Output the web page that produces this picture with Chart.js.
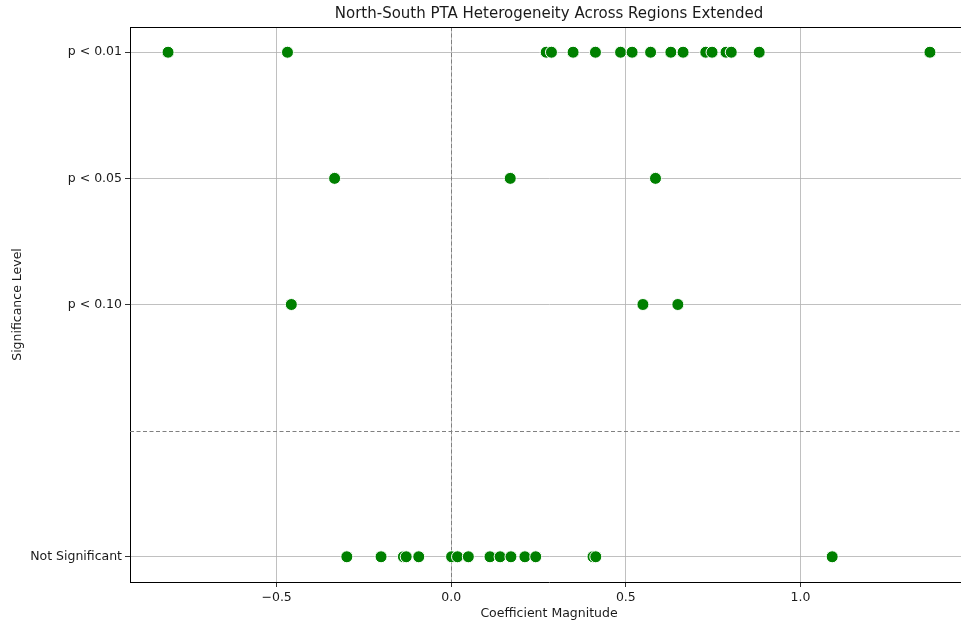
<!DOCTYPE html>
<html>
<head>
<meta charset="utf-8">
<script src="https://cdn.jsdelivr.net/npm/chart.js@4/dist/chart.umd.min.js"></script>
<style>
  html, body { margin: 0; padding: 0; background: #fff; overflow: hidden; }
  #wrap { width: 975px; height: 624px; }
</style>
</head>
<body>
<div id="wrap"><canvas id="c" width="975" height="624"></canvas></div>
<script>
// Significance levels and their vertical codes
const levelLabels = ['p < 0.01', 'p < 0.05', 'p < 0.10', 'Not Significant'];
const levelCodes = [3, 2, 1, -1];

// Coefficient estimates grouped by significance level
const coefP01 = [-0.811, -0.469, 0.272, 0.287, 0.349, 0.413, 0.485, 0.518, 0.571,
                 0.629, 0.664, 0.729, 0.747, 0.787, 0.802, 0.882, 1.371];
const coefP05 = [-0.334, 0.169, 0.585];
const coefP10 = [-0.458, 0.549, 0.649];
const coefNS  = [-0.299, -0.201, -0.137, -0.129, -0.093, 0.001, 0.018, 0.049, 0.111,
                 0.140, 0.171, 0.211, 0.242, 0.406, 0.414, 1.091];

const xTicks = [-0.5, 0.0, 0.5, 1.0];
const chartTitle = 'North-South PTA Heterogeneity Across Regions Extended';

const groups = [coefP01, coefP05, coefP10, coefNS];
const points = [];
groups.forEach((vals, i) => vals.forEach(v => points.push({ x: v, y: levelCodes[i] })));

const FONT = 'DejaVu Sans';
const TXT = '#1a1a1a';

// Zero reference lines, top/right frame, and a title centred over the plot area
const refLines = {
  id: 'refLines',
  beforeDatasetsDraw(chart) {
    const { ctx, chartArea: a, scales } = chart;
    const x0 = scales.x.getPixelForValue(0);
    const y0 = scales.y.getPixelForValue(0);
    ctx.save();
    ctx.strokeStyle = '#808080';
    ctx.lineWidth = 1;
    ctx.setLineDash([4, 2.5]);
    ctx.beginPath();
    ctx.moveTo(Math.round(x0) + 0.5, a.top);
    ctx.lineTo(Math.round(x0) + 0.5, a.bottom);
    ctx.moveTo(a.left, Math.round(y0) + 0.5);
    ctx.lineTo(a.right, Math.round(y0) + 0.5);
    ctx.stroke();
    ctx.restore();
  },
  afterDraw(chart) {
    const { ctx, chartArea: a } = chart;
    ctx.save();
    ctx.strokeStyle = '#000';
    ctx.lineWidth = 1;
    ctx.beginPath();
    ctx.moveTo(a.left, a.top + 0.5);
    ctx.lineTo(a.right, a.top + 0.5);
    ctx.moveTo(a.right - 0.5, a.top);
    ctx.lineTo(a.right - 0.5, a.bottom);
    ctx.stroke();
    ctx.fillStyle = TXT;
    ctx.font = '15px "' + FONT + '"';
    ctx.textAlign = 'center';
    ctx.textBaseline = 'middle';
    ctx.fillText(chartTitle, (a.left + a.right) / 2, a.top - 13);
    ctx.restore();
  }
};

new Chart(document.getElementById('c'), {
  type: 'scatter',
  data: {
    datasets: [{
      data: points,
      backgroundColor: '#008000',
      borderColor: '#ffffff',
      borderWidth: 1,
      pointRadius: 6,
      pointHoverRadius: 6
    }]
  },
  options: {
    responsive: false,
    devicePixelRatio: 1,
    animation: false,
    layout: { padding: { left: 0, right: 5, top: 27, bottom: 0 } },
    plugins: {
      legend: { display: false },
      tooltip: { enabled: false },
      title: { display: false }
    },
    scales: {
      x: {
        type: 'linear',
        min: -0.92,
        max: 1.48,
        afterBuildTicks(scale) { scale.ticks = xTicks.map(v => ({ value: v })); },
        afterFit(scale) { scale.height = 42; },
        ticks: {
          color: TXT,
          font: { family: FONT, size: 12.5 },
          padding: 3,
          maxRotation: 0,
          callback: v => (v < 0 ? '\u2212' + Math.abs(v).toFixed(1) : v.toFixed(1))
        },
        grid: { color: '#b0b0b0', lineWidth: 0.8, tickColor: '#000', tickLength: 5, drawOnChartArea: true },
        border: { color: '#000', width: 1 },
        title: {
          display: true,
          text: 'Coefficient Magnitude',
          color: TXT,
          font: { family: FONT, size: 12.5 },
          padding: { top: 1, bottom: 3 }
        }
      },
      y: {
        type: 'linear',
        min: -1.2,
        max: 3.2,
        afterBuildTicks(scale) { scale.ticks = levelCodes.map(v => ({ value: v })); },
        afterFit(scale) { scale.width = 130; },
        ticks: {
          color: TXT,
          font: { family: FONT, size: 12.5 },
          padding: 3,
          callback: v => levelLabels[levelCodes.indexOf(v)]
        },
        grid: { color: '#b0b0b0', lineWidth: 0.8, tickColor: '#000', tickLength: 5 },
        border: { color: '#000', width: 1 },
        title: {
          display: true,
          text: 'Significance Level',
          color: TXT,
          font: { family: FONT, size: 12.5 },
          padding: { top: 10, bottom: 4 }
        }
      }
    }
  },
  plugins: [refLines]
});
</script>
</body>
</html>
